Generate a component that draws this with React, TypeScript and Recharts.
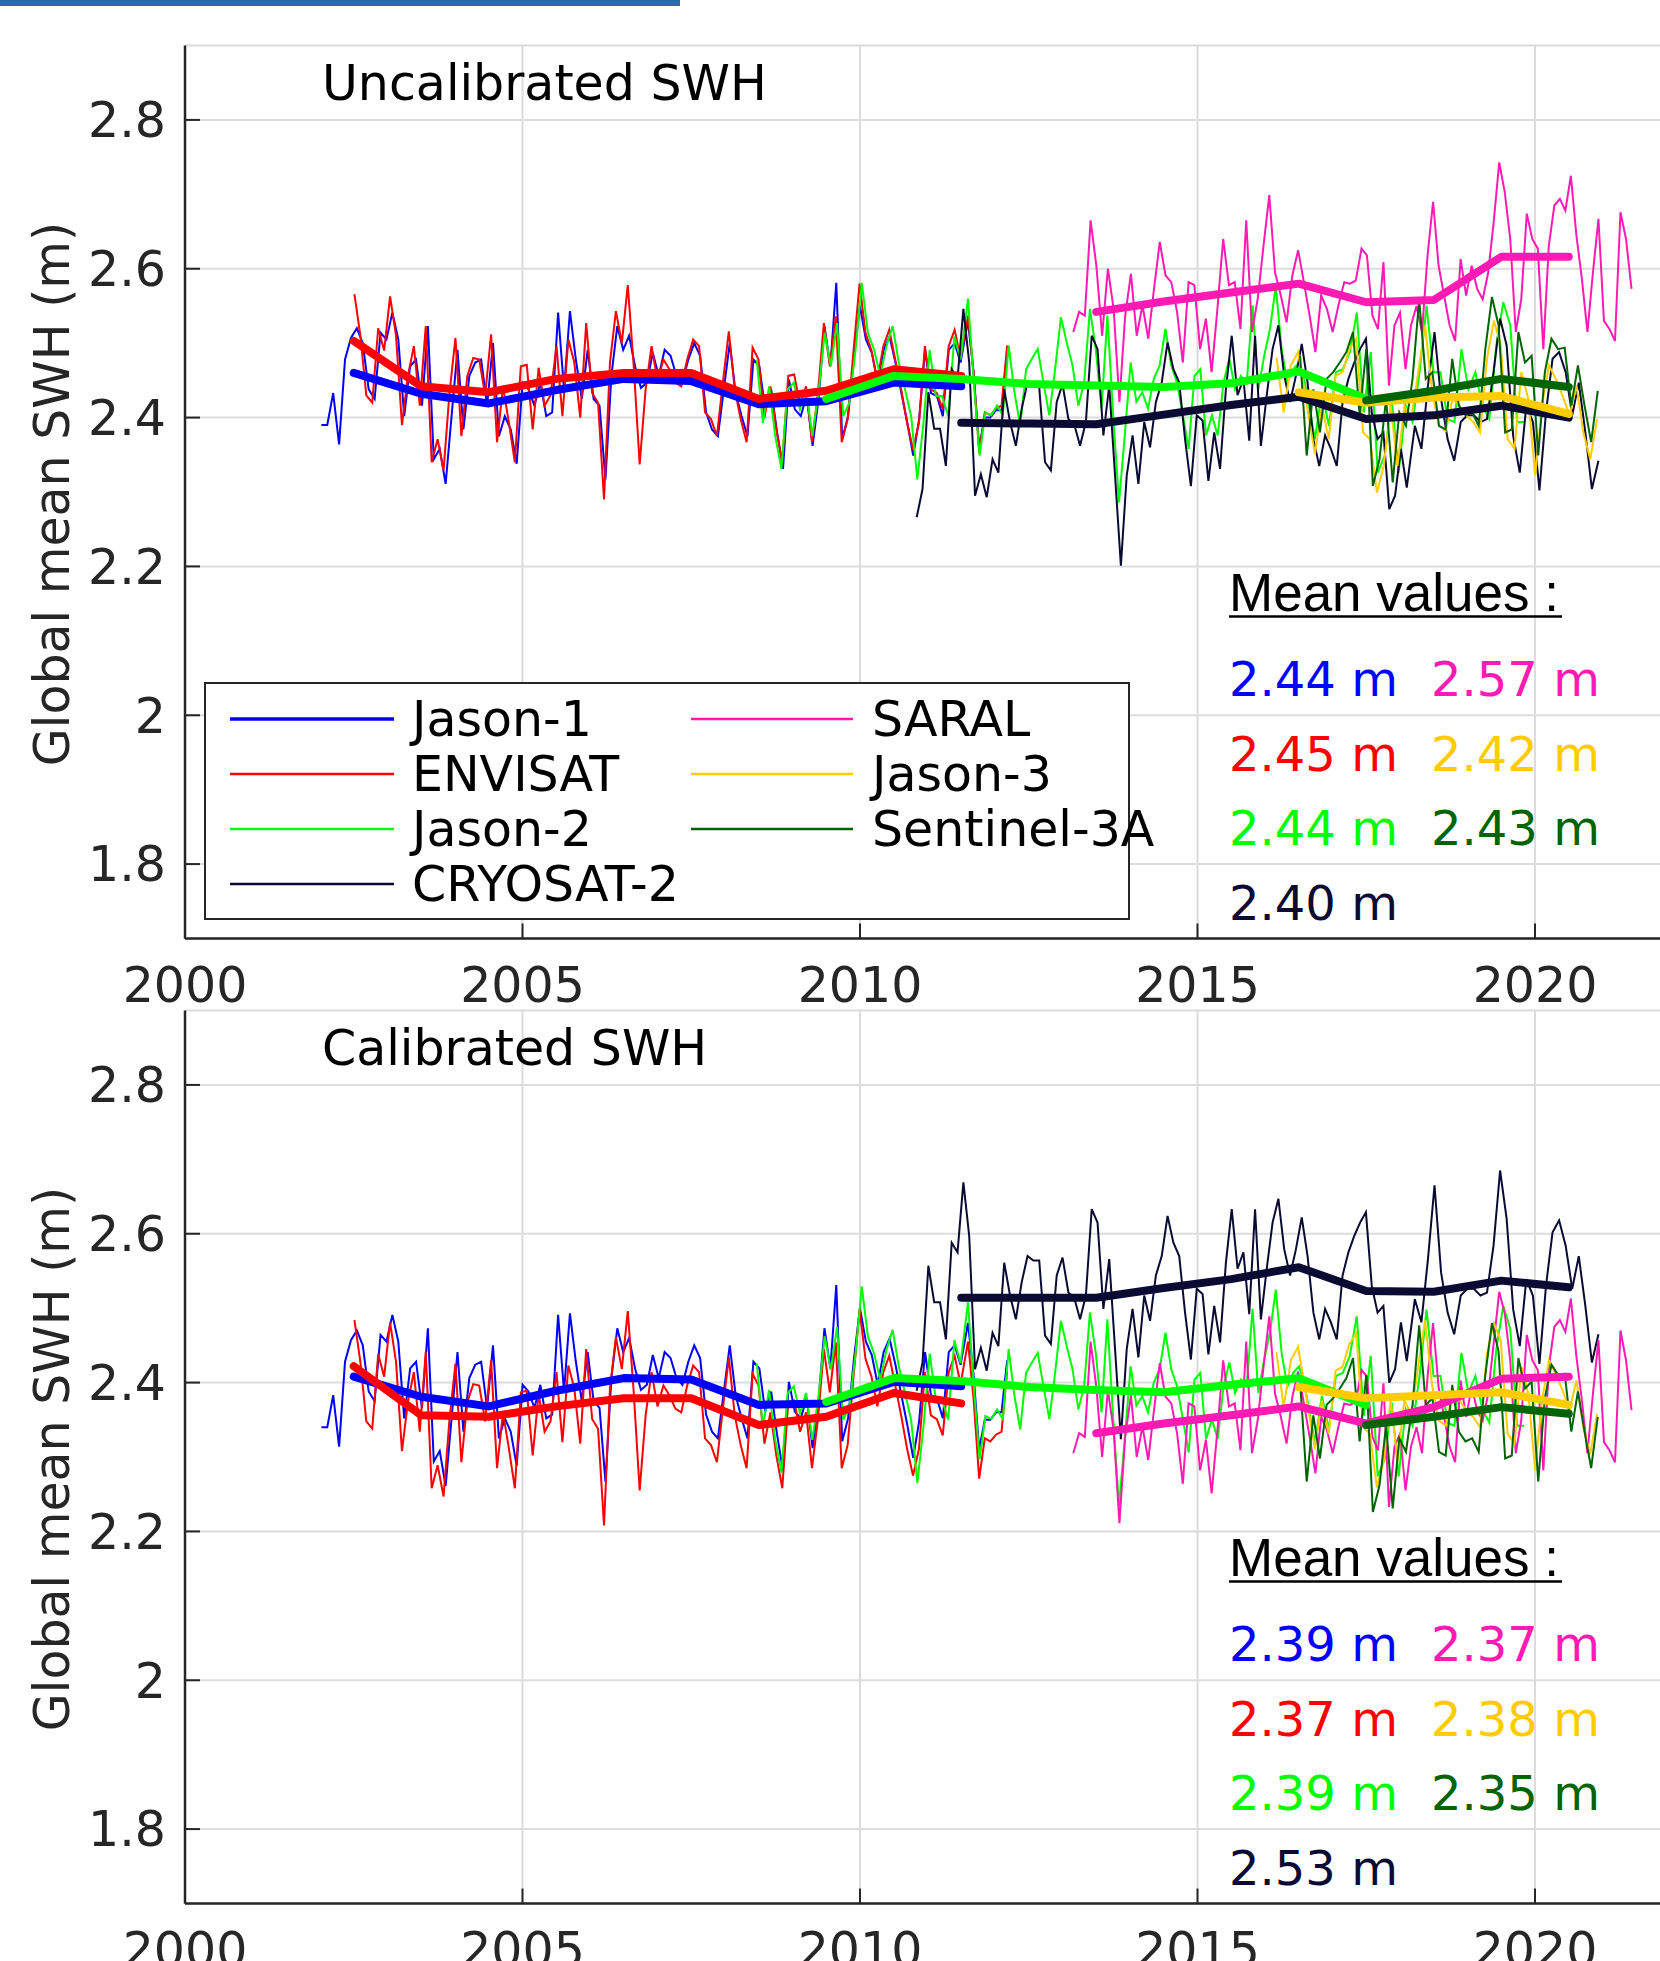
import React from "react";
import { LineChart, Line, XAxis, YAxis, CartesianGrid } from "recharts";

// ---- axes ----
const xTicks = [2000, 2005, 2010, 2015, 2020];
const yTicks = [1.8, 2.0, 2.2, 2.4, 2.6, 2.8];

// ---- mission names / colours ----
const names = ["Jason-1", "ENVISAT", "Jason-2", "CRYOSAT-2", "SARAL", "Jason-3", "Sentinel-3A"];
const colors = ["#0000ff", "#ff0000", "#00ff00", "#0a0a33", "#ff1ab3", "#ffcc00", "#006400"];

// mean values printed in the panels
const meanUncalLabels = [2.44, 2.45, 2.44, 2.4, 2.57, 2.42, 2.43];
const meanCalLabels = [2.39, 2.37, 2.39, 2.53, 2.37, 2.38, 2.35];

// ---- sample segments: [first year, last year, number of samples] ----
const j1Segs = [[2002.02, 2011.49, 109], [2011.6, 2012.18, 8]];
const envSegs = [[2002.51, 2011.49, 103], [2011.6, 2012.18, 8]];
const j2Segs = [[2008.47, 2011.49, 34], [2011.6, 2016.59, 59], [2016.74, 2019.84, 31]];
const c2Segs = [[2010.84, 2018.1, 85], [2018.22, 2020.94, 29]];
const saralSegs = [[2013.16, 2017.43, 51], [2017.51, 2021.43, 49]];
const j3Segs = [[2016.17, 2016.49, 4], [2016.74, 2020.92, 42]];
const s3aSegs = [[2016.52, 2020.93, 46]];

// ---- monthly global mean SWH (m), uncalibrated ----
const j1Uncal = [2.39, 2.39, 2.433, 2.364, 2.478, 2.507, 2.52, 2.5, 2.438, 2.425, 2.514, 2.505, 2.541, 2.505, 2.402, 2.469, 2.478, 2.416, 2.523, 2.344, 2.358, 2.311, 2.402, 2.491, 2.384, 2.456, 2.474, 2.478, 2.416, 2.5, 2.375, 2.402, 2.384, 2.338, 2.447, 2.438, 2.416, 2.447, 2.402, 2.407, 2.541, 2.438, 2.543, 2.478, 2.425, 2.491, 2.425, 2.416, 2.317, 2.456, 2.523, 2.491, 2.51, 2.469, 2.44, 2.447, 2.487, 2.456, 2.491, 2.483, 2.456, 2.447, 2.478, 2.5, 2.483, 2.407, 2.384, 2.375, 2.438, 2.5, 2.433, 2.402, 2.375, 2.478, 2.469, 2.411, 2.438, 2.38, 2.331, 2.451, 2.411, 2.402, 2.429, 2.362, 2.425, 2.523, 2.469, 2.581, 2.371, 2.402, 2.483, 2.55, 2.505, 2.487, 2.447, 2.491, 2.509, 2.474, 2.433, 2.393, 2.349, 2.398, 2.491, 2.433, 2.429, 2.402, 2.491, 2.5, 2.474, 2.53, 2.46, 2.36, 2.4, 2.4, 2.41, 2.41, 2.48];
const envUncal = [2.566, 2.51, 2.43, 2.42, 2.52, 2.49, 2.563, 2.51, 2.39, 2.456, 2.496, 2.416, 2.523, 2.34, 2.371, 2.329, 2.433, 2.507, 2.375, 2.456, 2.48, 2.478, 2.43, 2.512, 2.367, 2.442, 2.393, 2.34, 2.469, 2.471, 2.384, 2.467, 2.416, 2.43, 2.496, 2.402, 2.505, 2.474, 2.4, 2.527, 2.433, 2.42, 2.29, 2.474, 2.543, 2.5, 2.578, 2.469, 2.337, 2.438, 2.496, 2.45, 2.478, 2.465, 2.447, 2.442, 2.478, 2.505, 2.496, 2.407, 2.398, 2.375, 2.447, 2.516, 2.438, 2.398, 2.367, 2.494, 2.478, 2.4, 2.442, 2.384, 2.34, 2.456, 2.458, 2.416, 2.442, 2.367, 2.433, 2.527, 2.469, 2.536, 2.367, 2.398, 2.491, 2.58, 2.514, 2.49, 2.45, 2.496, 2.518, 2.478, 2.438, 2.393, 2.357, 2.393, 2.496, 2.438, 2.433, 2.411, 2.496, 2.518, 2.48, 2.537, 2.46, 2.353, 2.407, 2.403, 2.412, 2.416, 2.497];
const j2Uncal = [2.478, 2.393, 2.442, 2.375, 2.331, 2.438, 2.447, 2.411, 2.438, 2.375, 2.433, 2.514, 2.469, 2.527, 2.402, 2.42, 2.491, 2.581, 2.514, 2.491, 2.456, 2.496, 2.523, 2.474, 2.438, 2.402, 2.317, 2.393, 2.491, 2.429, 2.429, 2.402, 2.509, 2.478,
  2.56, 2.447, 2.349, 2.407, 2.403, 2.416, 2.403, 2.497, 2.434, 2.389, 2.465, 2.479, 2.492, 2.447, 2.403, 2.465, 2.535, 2.501, 2.47, 2.416, 2.447, 2.546, 2.492, 2.412, 2.537, 2.403, 2.286, 2.376, 2.474, 2.421, 2.434, 2.412, 2.452, 2.47, 2.519, 2.47, 2.447, 2.403, 2.358, 2.456, 2.465, 2.376, 2.403, 2.376, 2.447, 2.479, 2.438, 2.456, 2.447, 2.551, 2.438, 2.483, 2.519, 2.577, 2.492, 2.447, 2.465, 2.474, 2.447,
  2.371, 2.434, 2.389, 2.461, 2.465, 2.488, 2.541, 2.407, 2.488, 2.326, 2.349, 2.425, 2.326, 2.416, 2.394, 2.461, 2.55, 2.461, 2.461, 2.398, 2.394, 2.492, 2.438, 2.461, 2.416, 2.398, 2.497, 2.555, 2.524, 2.394, 2.394];
const c2Uncal = [2.266, 2.304, 2.434, 2.385, 2.385, 2.335, 2.465, 2.452, 2.546, 2.474, 2.295, 2.324, 2.293, 2.344, 2.326, 2.438, 2.394, 2.362, 2.412, 2.447, 2.441, 2.441, 2.34, 2.329, 2.421, 2.445, 2.398, 2.391, 2.362, 2.394, 2.51, 2.492, 2.376, 2.443, 2.322, 2.201, 2.322, 2.376, 2.311, 2.394, 2.36, 2.421, 2.447, 2.501, 2.465, 2.447, 2.371, 2.308, 2.403, 2.396, 2.315, 2.38, 2.331, 2.438, 2.51, 2.43, 2.452, 2.369, 2.51, 2.362, 2.43, 2.492, 2.524, 2.456, 2.421, 2.456, 2.499, 2.447, 2.371, 2.335, 2.376, 2.358, 2.335, 2.421, 2.452, 2.474, 2.492, 2.506, 2.407, 2.371, 2.38, 2.277, 2.295, 2.358, 2.306,
  2.389, 2.358, 2.443, 2.515, 2.425, 2.371, 2.342, 2.394, 2.403, 2.403, 2.394, 2.398, 2.461, 2.533, 2.497, 2.375, 2.326, 2.416, 2.394, 2.302, 2.407, 2.479, 2.488, 2.461, 2.403, 2.447, 2.38, 2.304, 2.342];
const saralUncal = [2.515, 2.542, 2.537, 2.665, 2.604, 2.51, 2.6, 2.546, 2.421, 2.537, 2.593, 2.51, 2.551, 2.506, 2.573, 2.636, 2.591, 2.582, 2.542, 2.474, 2.582, 2.578, 2.492, 2.533, 2.461, 2.546, 2.64, 2.578, 2.582, 2.519, 2.665, 2.515, 2.56, 2.631, 2.699, 2.595, 2.564, 2.528, 2.591, 2.625, 2.582, 2.537, 2.488, 2.564, 2.546, 2.515, 2.551, 2.582, 2.58, 2.584, 2.627,
  2.618, 2.537, 2.519, 2.609, 2.443, 2.524, 2.541, 2.465, 2.524, 2.55, 2.515, 2.618, 2.69, 2.604, 2.564, 2.524, 2.503, 2.613, 2.564, 2.604, 2.573, 2.559, 2.595, 2.663, 2.743, 2.703, 2.64, 2.515, 2.559, 2.674, 2.64, 2.627, 2.492, 2.631, 2.685, 2.694, 2.678, 2.725, 2.645, 2.586, 2.515, 2.595, 2.667, 2.53, 2.519, 2.503, 2.676, 2.64, 2.573];
const j3Uncal = [2.481, 2.407, 2.47, 2.488,
  2.351, 2.416, 2.371, 2.456, 2.461, 2.492, 2.506, 2.38, 2.371, 2.299, 2.335, 2.416, 2.335, 2.416, 2.398, 2.461, 2.524, 2.438, 2.389, 2.382, 2.425, 2.416, 2.403, 2.394, 2.38, 2.479, 2.53, 2.497, 2.371, 2.358, 2.461, 2.425, 2.322, 2.416, 2.47, 2.452, 2.429, 2.403, 2.443, 2.38, 2.344, 2.398];
const s3aUncal = [2.483, 2.349, 2.438, 2.38, 2.452, 2.461, 2.474, 2.488, 2.515, 2.403, 2.492, 2.308, 2.344, 2.425, 2.313, 2.407, 2.389, 2.452, 2.559, 2.452, 2.461, 2.389, 2.384, 2.479, 2.416, 2.403, 2.407, 2.389, 2.492, 2.562, 2.524, 2.38, 2.384, 2.515, 2.474, 2.483, 2.349, 2.461, 2.506, 2.492, 2.494, 2.416, 2.47, 2.416, 2.367, 2.436];

// ---- monthly global mean SWH (m), calibrated ----
const j1Cal = [2.34, 2.34, 2.383, 2.314, 2.428, 2.457, 2.47, 2.45, 2.388, 2.375, 2.464, 2.455, 2.491, 2.455, 2.352, 2.419, 2.428, 2.366, 2.473, 2.294, 2.308, 2.261, 2.352, 2.441, 2.334, 2.406, 2.424, 2.428, 2.366, 2.45, 2.325, 2.352, 2.334, 2.288, 2.397, 2.388, 2.366, 2.397, 2.352, 2.357, 2.491, 2.388, 2.493, 2.428, 2.375, 2.441, 2.375, 2.366, 2.267, 2.406, 2.473, 2.441, 2.46, 2.419, 2.39, 2.397, 2.437, 2.406, 2.441, 2.433, 2.406, 2.397, 2.428, 2.45, 2.433, 2.357, 2.334, 2.325, 2.388, 2.45, 2.383, 2.352, 2.325, 2.428, 2.419, 2.361, 2.388, 2.33, 2.281, 2.401, 2.361, 2.352, 2.379, 2.312, 2.375, 2.473, 2.419, 2.531, 2.321, 2.352, 2.433, 2.5, 2.455, 2.437, 2.397, 2.441, 2.459, 2.424, 2.383, 2.343, 2.299, 2.348, 2.441, 2.383, 2.379, 2.352, 2.441, 2.45, 2.424, 2.48, 2.41, 2.31, 2.35, 2.35, 2.36, 2.36, 2.43];
const envCal = [2.484, 2.428, 2.348, 2.338, 2.438, 2.408, 2.481, 2.428, 2.308, 2.374, 2.414, 2.334, 2.441, 2.258, 2.289, 2.247, 2.351, 2.425, 2.293, 2.374, 2.398, 2.396, 2.348, 2.43, 2.285, 2.36, 2.311, 2.258, 2.387, 2.389, 2.302, 2.385, 2.334, 2.348, 2.414, 2.32, 2.423, 2.392, 2.318, 2.445, 2.351, 2.338, 2.208, 2.392, 2.461, 2.418, 2.496, 2.387, 2.255, 2.356, 2.414, 2.368, 2.396, 2.383, 2.365, 2.36, 2.396, 2.423, 2.414, 2.325, 2.316, 2.293, 2.365, 2.434, 2.356, 2.316, 2.285, 2.412, 2.396, 2.318, 2.36, 2.302, 2.258, 2.374, 2.376, 2.334, 2.36, 2.285, 2.351, 2.445, 2.387, 2.454, 2.285, 2.316, 2.409, 2.498, 2.432, 2.408, 2.368, 2.414, 2.436, 2.396, 2.356, 2.311, 2.275, 2.311, 2.414, 2.356, 2.351, 2.329, 2.414, 2.436, 2.398, 2.455, 2.378, 2.271, 2.325, 2.321, 2.33, 2.334, 2.415];
const j2Cal = [2.426, 2.341, 2.39, 2.323, 2.279, 2.386, 2.395, 2.359, 2.386, 2.323, 2.381, 2.462, 2.417, 2.475, 2.35, 2.368, 2.439, 2.529, 2.462, 2.439, 2.404, 2.444, 2.471, 2.422, 2.386, 2.35, 2.265, 2.341, 2.439, 2.377, 2.377, 2.35, 2.457, 2.426,
  2.508, 2.395, 2.297, 2.355, 2.351, 2.364, 2.351, 2.445, 2.382, 2.337, 2.413, 2.427, 2.44, 2.395, 2.351, 2.413, 2.483, 2.449, 2.418, 2.364, 2.395, 2.494, 2.44, 2.36, 2.485, 2.351, 2.234, 2.324, 2.422, 2.369, 2.382, 2.36, 2.4, 2.418, 2.467, 2.418, 2.395, 2.351, 2.306, 2.404, 2.413, 2.324, 2.351, 2.324, 2.395, 2.427, 2.386, 2.404, 2.395, 2.499, 2.386, 2.431, 2.467, 2.525, 2.44, 2.395, 2.413, 2.422, 2.395,
  2.319, 2.382, 2.337, 2.409, 2.413, 2.436, 2.489, 2.355, 2.436, 2.274, 2.297, 2.373, 2.274, 2.364, 2.342, 2.409, 2.498, 2.409, 2.409, 2.346, 2.342, 2.44, 2.386, 2.409, 2.364, 2.346, 2.445, 2.503, 2.472, 2.342, 2.342];
const c2Cal = [2.389, 2.427, 2.557, 2.508, 2.508, 2.458, 2.588, 2.575, 2.669, 2.597, 2.418, 2.447, 2.416, 2.467, 2.449, 2.561, 2.517, 2.485, 2.535, 2.57, 2.564, 2.564, 2.463, 2.452, 2.544, 2.568, 2.521, 2.514, 2.485, 2.517, 2.633, 2.615, 2.499, 2.566, 2.445, 2.324, 2.445, 2.499, 2.434, 2.517, 2.483, 2.544, 2.57, 2.624, 2.588, 2.57, 2.494, 2.431, 2.526, 2.519, 2.438, 2.503, 2.454, 2.561, 2.633, 2.553, 2.575, 2.492, 2.633, 2.485, 2.553, 2.615, 2.647, 2.579, 2.544, 2.579, 2.622, 2.57, 2.494, 2.458, 2.499, 2.481, 2.458, 2.544, 2.575, 2.597, 2.615, 2.629, 2.53, 2.494, 2.503, 2.4, 2.418, 2.481, 2.429,
  2.512, 2.481, 2.566, 2.665, 2.548, 2.494, 2.465, 2.517, 2.526, 2.526, 2.517, 2.521, 2.584, 2.685, 2.62, 2.498, 2.449, 2.539, 2.517, 2.425, 2.53, 2.602, 2.618, 2.584, 2.526, 2.57, 2.503, 2.427, 2.465];
const saralCal = [2.305, 2.332, 2.327, 2.455, 2.394, 2.3, 2.39, 2.336, 2.211, 2.327, 2.383, 2.3, 2.341, 2.296, 2.363, 2.426, 2.381, 2.372, 2.332, 2.264, 2.372, 2.368, 2.282, 2.323, 2.251, 2.336, 2.43, 2.368, 2.372, 2.309, 2.455, 2.305, 2.35, 2.421, 2.489, 2.385, 2.354, 2.318, 2.381, 2.415, 2.372, 2.327, 2.278, 2.354, 2.336, 2.305, 2.341, 2.372, 2.37, 2.374, 2.417,
  2.408, 2.327, 2.309, 2.399, 2.233, 2.314, 2.331, 2.255, 2.314, 2.34, 2.305, 2.408, 2.48, 2.394, 2.354, 2.314, 2.293, 2.403, 2.354, 2.394, 2.363, 2.349, 2.385, 2.453, 2.522, 2.493, 2.43, 2.305, 2.349, 2.464, 2.43, 2.417, 2.282, 2.421, 2.475, 2.484, 2.468, 2.513, 2.435, 2.376, 2.305, 2.385, 2.457, 2.32, 2.309, 2.293, 2.47, 2.43, 2.363];
const j3Cal = [2.441, 2.367, 2.43, 2.448,
  2.311, 2.376, 2.331, 2.416, 2.421, 2.452, 2.466, 2.34, 2.331, 2.259, 2.295, 2.376, 2.295, 2.376, 2.358, 2.421, 2.484, 2.398, 2.349, 2.342, 2.385, 2.376, 2.363, 2.354, 2.34, 2.439, 2.48, 2.457, 2.331, 2.318, 2.421, 2.385, 2.282, 2.376, 2.43, 2.412, 2.389, 2.363, 2.403, 2.34, 2.304, 2.358];
const s3aCal = [2.401, 2.267, 2.356, 2.298, 2.37, 2.379, 2.392, 2.406, 2.433, 2.321, 2.41, 2.226, 2.262, 2.343, 2.231, 2.325, 2.307, 2.37, 2.477, 2.37, 2.379, 2.307, 2.302, 2.397, 2.334, 2.321, 2.325, 2.307, 2.41, 2.48, 2.442, 2.298, 2.302, 2.433, 2.392, 2.401, 2.267, 2.379, 2.424, 2.41, 2.412, 2.334, 2.388, 2.334, 2.285, 2.354];

// ---- annual mean curves (thick lines) ----
const j1MeanYears = [2002.5, 2003.5, 2004.5, 2005.5, 2006.5, 2007.5, 2008.5, 2009.5, 2010.5, 2011.5];
const j1MeanUncal = [2.46, 2.432, 2.419, 2.437, 2.452, 2.449, 2.418, 2.422, 2.447, 2.442];
const j1MeanCal = [2.408, 2.381, 2.368, 2.389, 2.406, 2.404, 2.37, 2.372, 2.401, 2.395];
const envMeanYears = [2002.5, 2003.5, 2004.5, 2005.5, 2006.5, 2007.5, 2008.5, 2009.5, 2010.5, 2011.5];
const envMeanUncal = [2.503, 2.442, 2.434, 2.452, 2.46, 2.46, 2.425, 2.436, 2.465, 2.456];
const envMeanCal = [2.422, 2.356, 2.354, 2.368, 2.379, 2.379, 2.343, 2.354, 2.386, 2.372];
const j2MeanYears = [2009.5, 2010.5, 2011.5, 2012.5, 2013.5, 2014.5, 2015.5, 2016.5, 2017.5];
const j2MeanUncal = [2.425, 2.456, 2.452, 2.445, 2.443, 2.441, 2.446, 2.462, 2.425];
const j2MeanCal = [2.374, 2.406, 2.402, 2.394, 2.39, 2.387, 2.397, 2.406, 2.37];
const c2MeanYears = [2011.5, 2012.5, 2013.5, 2014.5, 2015.5, 2016.5, 2017.5, 2018.5, 2019.5, 2020.5];
const c2MeanUncal = [2.393, 2.392, 2.391, 2.404, 2.417, 2.428, 2.398, 2.403, 2.416, 2.4];
const c2MeanCal = [2.514, 2.514, 2.514, 2.527, 2.539, 2.555, 2.523, 2.522, 2.537, 2.528];
const saralMeanYears = [2013.5, 2014.5, 2015.5, 2016.5, 2017.5, 2018.5, 2019.5, 2020.5];
const saralMeanUncal = [2.542, 2.556, 2.568, 2.58, 2.555, 2.558, 2.616, 2.616];
const saralMeanCal = [2.332, 2.345, 2.356, 2.368, 2.345, 2.367, 2.405, 2.408];
const j3MeanYears = [2016.5, 2017.5, 2018.5, 2019.5, 2020.5];
const j3MeanUncal = [2.434, 2.42, 2.427, 2.429, 2.405];
const j3MeanCal = [2.394, 2.379, 2.383, 2.387, 2.37];
const s3aMeanYears = [2017.5, 2018.5, 2019.5, 2020.5];
const s3aMeanUncal = [2.423, 2.436, 2.452, 2.441];
const s3aMeanCal = [2.343, 2.354, 2.367, 2.358];

type Pt = { t: number; v: number };

const toSamples = (segs: number[][], values: number[]): Pt[] => {
  const out: Pt[] = [];
  let k = 0;
  segs.forEach(([a, b, n]) => {
    for (let i = 0; i < n; i++) {
      out.push({ t: n > 1 ? a + ((b - a) * i) / (n - 1) : a, v: values[k++] });
    }
  });
  return out;
};
const toMean = (years: number[], values: number[]): Pt[] =>
  years.map((t, i) => ({ t, v: values[i] }));

const segsAll = [j1Segs, envSegs, j2Segs, c2Segs, saralSegs, j3Segs, s3aSegs];
const uncalAll = [j1Uncal, envUncal, j2Uncal, c2Uncal, saralUncal, j3Uncal, s3aUncal];
const calAll = [j1Cal, envCal, j2Cal, c2Cal, saralCal, j3Cal, s3aCal];
const meanYearsAll = [j1MeanYears, envMeanYears, j2MeanYears, c2MeanYears, saralMeanYears, j3MeanYears, s3aMeanYears];
const meanUncalAll = [j1MeanUncal, envMeanUncal, j2MeanUncal, c2MeanUncal, saralMeanUncal, j3MeanUncal, s3aMeanUncal];
const meanCalAll = [j1MeanCal, envMeanCal, j2MeanCal, c2MeanCal, saralMeanCal, j3MeanCal, s3aMeanCal];

const FONT = "DejaVu Sans";
const AXIS = "#262626";
const W = 1680;
const H = 1030;

const axisLine = { stroke: AXIS, strokeWidth: 2.5 };
const tickLine = { stroke: AXIS, strokeWidth: 2 };
const tickStyle = { fill: AXIS, fontSize: 49, fontFamily: FONT };
const yFmt = (v: number) => (Math.abs(v - 2) < 1e-6 ? "2" : v.toFixed(1));
const blank = () => "";

// legend / label grid: column 0 holds the first four missions
const slot = (i: number) => (i < 4 ? { col: 0, row: i } : { col: 1, row: i - 4 });

const Panel = ({
  top,
  title,
  values,
  means,
  labels,
  legend,
}: {
  top: number;
  title: string;
  values: number[][];
  means: number[][];
  labels: number[];
  legend: boolean;
}) => {
  return (
    <div style={{ position: "absolute", left: 0, top, width: W, height: H }}>
      <LineChart width={W} height={H} margin={{ top: 45.5, right: 10, bottom: 21.5, left: 0 }}>
        <CartesianGrid stroke="#dcdcdc" strokeWidth={2} />
        <XAxis
          dataKey="t"
          type="number"
          domain={[2000, 2022]}
          ticks={xTicks}
          interval={0}
          allowDataOverflow
          height={70}
          tickSize={-15}
          tickMargin={44}
          axisLine={axisLine}
          tickLine={tickLine}
          tick={tickStyle}
        />
        <XAxis
          xAxisId="top"
          orientation="top"
          dataKey="t"
          type="number"
          domain={[2000, 2022]}
          ticks={xTicks}
          interval={0}
          allowDataOverflow
          height={0}
          tickSize={-15}
          tickFormatter={blank}
          axisLine={axisLine}
          tickLine={tickLine}
          tick={tickStyle}
        />
        <YAxis
          type="number"
          domain={[1.7, 2.9]}
          ticks={yTicks}
          interval={0}
          allowDataOverflow
          width={185}
          tickSize={-15}
          tickMargin={34}
          tickFormatter={yFmt}
          axisLine={axisLine}
          tickLine={tickLine}
          tick={tickStyle}
        />
        <YAxis
          yAxisId="right"
          orientation="right"
          type="number"
          domain={[1.7, 2.9]}
          ticks={yTicks}
          interval={0}
          allowDataOverflow
          width={0}
          tickSize={-15}
          tickFormatter={blank}
          axisLine={axisLine}
          tickLine={tickLine}
          tick={tickStyle}
        />
        {values.map((vals, i) => (
          <Line
            key={"raw" + i}
            data={toSamples(segsAll[i], vals)}
            dataKey="v"
            type="linear"
            stroke={colors[i]}
            strokeWidth={2}
            dot={false}
            activeDot={false}
            isAnimationActive={false}
          />
        ))}
        {means.map((vals, i) => (
          <Line
            key={"mean" + i}
            data={toMean(meanYearsAll[i], vals)}
            dataKey="v"
            type="linear"
            stroke={colors[i]}
            strokeWidth={8}
            strokeLinecap="round"
            strokeLinejoin="round"
            dot={false}
            activeDot={false}
            isAnimationActive={false}
          />
        ))}
      </LineChart>
      <svg
        width={1660}
        height={H}
        style={{ position: "absolute", left: 0, top: 0, pointerEvents: "none" }}
      >
        <text x={322} y={100} fontFamily={FONT} fontSize={49} fill="#000">
          {title}
        </text>
        <text
          transform="translate(52,494) rotate(-90)"
          textAnchor="middle"
          dominantBaseline="central"
          fontFamily={FONT}
          fontSize={49}
          fill={AXIS}
        >
          Global mean SWH (m)
        </text>
        {legend && (
          <g>
            <rect x={205} y={683} width={924} height={236} fill="#fff" stroke={AXIS} strokeWidth={2} />
            {names.map((n, i) => {
              const { col, row } = slot(i);
              const y = 719 + row * 55;
              const x0 = col === 0 ? 230 : 691;
              const x1 = col === 0 ? 394 : 853;
              const tx = col === 0 ? 412 : 872;
              return (
                <g key={n}>
                  <line x1={x0} x2={x1} y1={y} y2={y} stroke={colors[i]} strokeWidth={i === 0 ? 3.5 : 2.5} />
                  <text x={tx} y={y + 17} fontFamily={FONT} fontSize={49} fill="#000">
                    {n}
                  </text>
                </g>
              );
            })}
          </g>
        )}
        <text x={1229} y={611} fontFamily="Liberation Sans" fontSize={53} fill="#000">
          Mean values :
        </text>
        <line x1={1229} x2={1562} y1={616.5} y2={616.5} stroke="#000" strokeWidth={2.5} />
        {labels.map((m, i) => {
          const { col, row } = slot(i);
          return (
            <text
              key={"lab" + i}
              x={col === 0 ? 1229 : 1431}
              y={696 + row * 74.6}
              fontFamily={FONT}
              fontSize={48}
              fill={colors[i]}
            >
              {m.toFixed(2) + " m"}
            </text>
          );
        })}
      </svg>
    </div>
  );
};

export default function App() {
  return (
    <div
      style={{
        position: "absolute",
        left: 0,
        top: 0,
        width: 1660,
        height: 1961,
        overflow: "hidden",
        background: "#fff",
      }}
    >
      <Panel
        top={0}
        title="Uncalibrated SWH"
        values={uncalAll}
        means={meanUncalAll}
        labels={meanUncalLabels}
        legend
      />
      <Panel
        top={964.5}
        title="Calibrated SWH"
        values={calAll}
        means={meanCalAll}
        labels={meanCalLabels}
        legend={false}
      />
      <div style={{ position: "absolute", left: 0, top: 0, width: 680, height: 6, background: "#3567a7" }} />
    </div>
  );
}
